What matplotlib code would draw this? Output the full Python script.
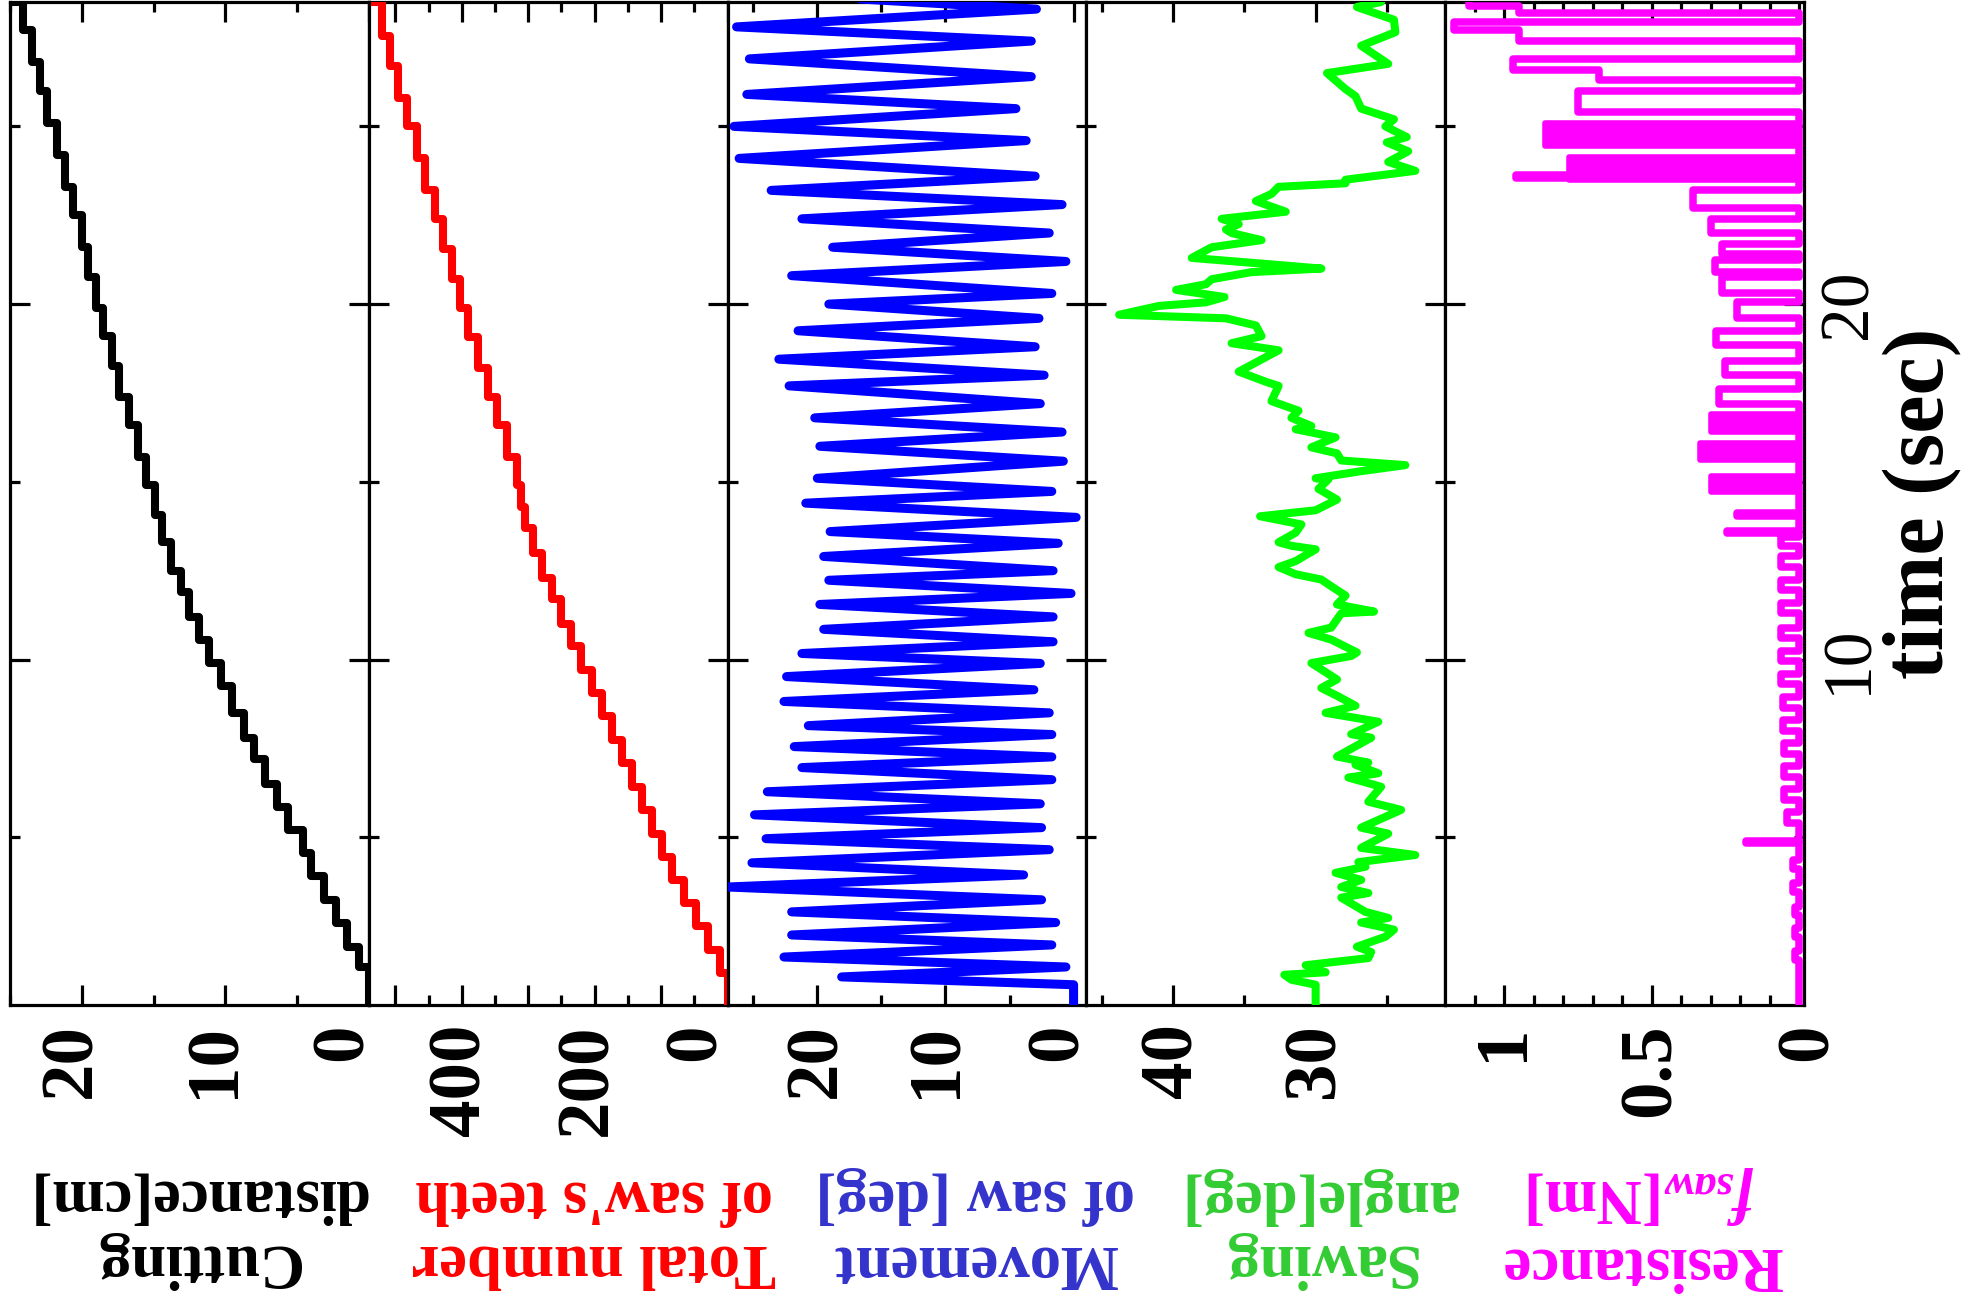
import numpy as np
import matplotlib
matplotlib.use('Agg')
import matplotlib.pyplot as plt
import matplotlib.transforms as mtransforms

plt.rcParams['font.family'] = 'Liberation Serif'
plt.rcParams['font.weight'] = 'bold'
plt.rcParams['mathtext.fontset'] = 'custom'
plt.rcParams['mathtext.rm'] = 'Liberation Serif:bold'
plt.rcParams['mathtext.it'] = 'Liberation Serif:italic:bold'

# cutting distance [cm] (value held from each time to the next)
cut_t = [0.28, 1.35, 1.9, 2.6, 3.24, 3.9, 4.55, 5.2, 5.86, 6.5, 7.2, 7.8, 8.5, 9.25, 9.9,
         10.56, 11.2, 11.9, 12.5, 13.3, 14.08, 14.9, 15.7, 16.6, 17.4, 18.25, 19.1, 19.9,
         20.75, 21.6, 22.5, 23.3, 24.2, 25.1, 26.0, 26.8, 27.7, 28.5]
cut_v = [0.0, 0.7, 1.5, 2.3, 3.1, 4.0, 4.6, 5.6, 6.4, 7.2, 8.0, 8.7, 9.5, 10.3, 11.1,
         11.8, 12.5, 13.1, 13.75, 14.4, 14.9, 15.5, 16.1, 16.7, 17.4, 17.9, 18.5, 19.0,
         19.6, 20.0, 20.6, 21.2, 21.7, 22.4, 22.9, 23.5, 24.1, 24.8]

# total number of saw's teeth
teeth_t = [0.28, 1.18, 1.83, 2.5, 3.15, 3.8, 4.45, 5.1, 5.77, 6.4, 7.1, 7.75, 8.4, 9.07, 9.7,
           10.37, 11.0, 11.7, 12.3, 13.0, 13.7, 14.3, 14.9, 15.7, 16.6, 17.4, 18.2, 19.07,
           19.9, 20.7, 21.55, 22.4, 23.2, 24.1, 25.0, 25.8, 26.7, 27.55, 28.5]
teeth_v = [0, 12, 30, 47, 65, 83, 98, 114, 129, 144, 159, 174, 189, 204, 220,
           235, 250, 265, 280, 293, 305, 311, 317, 332, 347, 361, 376, 391,
           403, 415, 429, 441, 456, 468, 483, 496, 508, 520, 531]

# movement of saw [deg], turning points
saw_t = [0.28, 0.85, 1.07, 1.35, 1.63, 1.97, 2.25, 2.6, 2.9, 3.24, 3.6, 3.94, 4.28, 4.65,
         4.96, 5.27, 5.63, 5.94, 6.28, 6.62, 6.96, 7.26, 7.55, 7.89, 8.14, 8.5, 8.82, 9.15,
         9.52, 9.89, 10.17, 10.5, 10.85, 11.2, 11.55, 11.86, 12.23, 12.5, 12.9, 13.27,
         13.6, 14.0, 14.4, 14.73, 15.1, 15.58, 16.0, 16.4, 16.8, 17.2, 17.7, 18.0, 18.45,
         18.8, 19.25, 19.6, 20.0, 20.3, 20.8, 21.2, 21.6, 22.0, 22.4, 22.8, 23.2, 23.6,
         24.1, 24.6, 25.0, 25.5, 25.9, 26.4, 26.9, 27.4, 27.8, 28.3, 28.6]
saw_v = [0.0, 0.0, 18.1, 0.6, 22.6, 1.7, 22.0, 1.4, 22.0, 2.5, 27.0, 3.9, 25.1, 1.9,
         24.0, 2.5, 24.9, 2.6, 23.9, 1.7, 21.2, 1.7, 21.8, 1.7, 20.7, 1.9, 22.6, 3.1,
         22.4, 2.6, 21.2, 1.6, 19.5, 1.6, 19.8, 0.2, 19.1, 1.6, 19.5, 1.2,
         19.0, -0.2, 20.9, 1.7, 20.0, 0.8, 19.8, 0.9, 20.2, 2.6, 22.2, 2.3, 23.0,
         3.0, 21.5, 2.7, 19.1, 1.7, 22.0, 0.6, 18.8, 1.9, 21.2, 0.9, 23.6, 3.0,
         26.1, 3.7, 26.5, 4.5, 25.5, 3.3, 25.3, 3.3, 26.3, 2.9, 17.4]

# sawing angle [deg]
ang_t = [0.28, 0.85, 0.99, 1.13, 1.2, 1.4, 1.6, 1.77, 1.92, 2.2, 2.4, 2.6, 2.73, 2.9, 3.3,
         3.43, 3.6, 3.8, 4.0, 4.17, 4.3, 4.5, 4.7, 5.1, 5.27, 5.77, 6.0, 6.42, 6.68, 6.8,
         7.04, 7.1, 7.27, 7.8, 7.9, 8.25, 8.5, 8.7, 8.96, 9.2, 9.44, 9.9, 10.1, 10.2,
         10.56, 10.75, 10.9, 11.3, 11.35, 11.55, 11.8, 12.06, 12.25, 12.4, 12.6, 12.77,
         13.1, 13.2, 13.3, 13.57, 13.8, 14.03, 14.2, 14.5, 14.8, 15.07, 15.1, 15.3, 15.47,
         15.6, 15.8, 15.97, 16.25, 16.48, 16.57, 16.8, 17.0, 17.27, 17.7, 17.8, 18.1,
         18.25, 18.7, 18.9, 19.1, 19.4, 19.6, 19.7, 19.95, 20.05, 20.2, 20.4, 20.56,
         20.7, 20.9, 21.0, 21.13, 21.3, 21.6, 21.8, 22.0, 22.1, 22.25, 22.4, 22.6, 22.9,
         23.1, 23.3, 23.4, 23.5, 23.75, 24.0, 24.3, 24.55, 24.7, 25.0, 25.2, 25.5, 25.85,
         26.05, 26.5, 26.76, 27.27, 27.65, 28.0, 28.36, 28.5]
ang_v = [30.0, 30.0, 31.7, 32.2, 29.3, 30.7, 26.3, 26.1, 27.1, 25.1, 24.5, 26.8, 24.9, 26.5, 28.2,
         26.3, 28.2, 26.8, 28.6, 26.5, 27.0, 23.0, 26.8, 24.9, 26.8, 24.0, 26.3, 25.4, 27.7, 25.6,
         27.2, 26.3, 28.5, 26.1, 27.5, 25.6, 29.3, 27.2, 28.4, 29.6, 28.5, 30.3, 27.5, 27.1,
         28.9, 30.5, 28.9, 28.2, 25.9, 28.5, 27.9, 28.9, 29.6, 31.4, 32.6, 31.4,
         30.0, 31.7, 32.6, 31.4, 31.0, 33.9, 30.0, 28.5, 29.8, 29.1, 30.0, 26.8, 23.7,
         28.2, 28.5, 30.3, 28.6, 31.4, 30.3, 31.7, 31.2, 33.1, 32.6, 33.4, 35.4,
         34.7, 32.6, 35.9, 33.8, 34.2, 36.3, 43.8, 41.0, 37.7, 36.4, 39.8, 37.7,
         37.3, 34.5, 29.6, 33.5, 38.7, 37.3, 33.8, 35.9, 36.3, 35.4, 36.6, 32.1, 34.2,
         33.1, 32.6, 27.9, 27.9, 23.0, 24.9, 23.5, 25.0, 23.6, 25.1, 24.5, 26.8, 27.2,
         27.9, 29.2, 24.9, 26.8, 24.4, 24.5, 27.1, 25.4]

# resistance f_saw [Nm]: single pulses (on, off, height)
res_on = [1.55, 2.2, 2.8, 3.45, 4.1, 4.84, 5.4, 6.05, 6.7, 7.35, 8.0, 8.65, 9.3, 9.95,
          10.6, 11.3, 11.95, 12.6, 13.2, 13.55, 14.05, 17.2, 18.0, 18.85, 19.6, 20.3,
          20.9, 21.4, 22.0, 22.7, 23.55, 25.4, 26.3, 26.6, 27.4, 27.7, 28.2, 28.4]
res_off = [1.8, 2.45, 3.05, 3.7, 4.35, 4.9, 5.7, 6.35, 7.0, 7.65, 8.3, 8.95, 9.6, 10.25,
           10.9, 11.6, 12.25, 12.9, 13.45, 13.62, 14.12, 17.6, 18.4, 19.25, 20.05, 20.75,
           21.25, 21.7, 22.4, 23.2, 23.62, 26.0, 26.6, 26.9, 27.7, 27.95, 28.4, 28.7]
res_h = [0.015, 0.015, 0.015, 0.02, 0.02, 0.18, 0.04, 0.05, 0.05, 0.05, 0.055, 0.055, 0.06, 0.06,
         0.06, 0.06, 0.06, 0.06, 0.06, 0.245, 0.21, 0.27, 0.25, 0.28, 0.21, 0.26,
         0.285, 0.26, 0.30, 0.36, 0.96, 0.75, 0.68, 0.97, 0.95, 1.17, 0.95, 1.12]
# dense blocks of resistance (start, end, height)
blk_on = [14.7, 15.6, 16.4, 23.5, 24.45]
blk_off = [15.15, 16.1, 16.9, 24.15, 25.1]
blk_h = [0.30, 0.335, 0.30, 0.78, 0.86]

labels = ['Cutting\ndistance[cm]', "Total number\nof saw's teeth", 'Movement\nof saw [deg]',
          'Sawing\nangle[deg]', 'Resistance\n$f_{saw}$[Nm]']
label_colors = ['black', '#ff0000', '#3333cc', '#33cc33', '#ff00ff']
label_x = [196, 594, 975, 1318, 1641]

W, H = 1970, 1304
fig = plt.figure(figsize=(W / 100, H / 100), dpi=100)

x0, pw, top, bot = 10, 358.8, 2, 1005
axes = []
for k in range(5):
    ax = fig.add_axes([(x0 + k * pw) / W, 1 - bot / H, pw / W, (bot - top) / H])
    axes.append(ax)

lw_sp = 2.3
for ax in axes:
    for s in ax.spines.values():
        s.set_linewidth(lw_sp)
    ax.set_ylim(0.28, 28.5)
    ax.set_yticks([10, 20])
    ax.set_yticks([5, 15, 25], minor=True)
    ax.tick_params(which='both', direction='in', top=True, bottom=True, left=True, right=True,
                   width=lw_sp, labelleft=False, labelright=False)
    ax.tick_params(which='major', length=14.5)
    ax.tick_params(which='minor', length=7.5)
    ax.tick_params(axis='x', labelsize=54, pad=13, labelrotation=90)

# 1: cutting distance
ax = axes[0]
ax.plot(cut_v, cut_t, color='black', lw=5.8, drawstyle='steps-pre', solid_joinstyle='round', zorder=3)
ax.set_xlim(25.0, 0.0)
ax.set_xticks([0, 10, 20])
ax.set_xticks([5, 15, 25], minor=True)

# 2: teeth
ax = axes[1]
ax.plot(teeth_v, teeth_t, color='#ff0000', lw=5.8, drawstyle='steps-pre', solid_joinstyle='round', zorder=3)
ax.set_xlim(540, 0)
ax.set_xticks([0, 100, 200, 300, 400, 500])
ax.set_xticklabels(['0', '', '200', '', '400', ''])
ax.set_xticks([50, 150, 250, 350, 450], minor=True)

# 3: movement of saw
ax = axes[2]
ax.plot(saw_v, saw_t, color='#0000ff', lw=6.5, solid_joinstyle='round', solid_capstyle='round', zorder=3)
ax.set_xlim(27.0, -1.0)
ax.set_xticks([0, 10, 20])
ax.set_xticks([5, 15, 25], minor=True)

# 4: sawing angle
ax = axes[3]
ax.plot(ang_v, ang_t, color='#00ff00', lw=5.8, solid_joinstyle='round', solid_capstyle='round', zorder=3)
ax.set_xlim(46.1, 20.9)
ax.set_xticks([30, 40])
ax.set_xticks([25, 35, 45], minor=True)

# 5: resistance
ax = axes[4]
rt, rv = [0.28], [0.0]
for on, off, h in zip(res_on, res_off, res_h):
    if rt[-1] == on and rv[-1] == 0.0 and len(rt) > 1:
        rv[-1] = h
    else:
        rt.append(on)
        rv.append(h)
    rt.append(off)
    rv.append(0.0)
rt.append(28.6)
rv.append(0.0)
ax.plot(rv, rt, color='#ff00ff', lw=5.4, drawstyle='steps-pre', solid_joinstyle='round', zorder=3)
for on, off, h in zip(blk_on, blk_off, blk_h):
    ax.fill_betweenx([on, off], 0, h, color='#ff00ff', lw=4, edgecolor='#ff00ff', zorder=3)
ax.set_xlim(1.2, -0.017)
ax.set_xticks([0, 0.5, 1])
ax.set_xticklabels(['0', '0.5', '1'])
ax.set_xticks([0.1, 0.2, 0.3, 0.4, 0.6, 0.7, 0.8, 0.9, 1.1], minor=True)

# time tick labels on the right side of the last panel
for tv in [10, 20]:
    ax.text(1.04, tv, str(tv), transform=ax.get_yaxis_transform(), rotation=90,
            ha='left', va='center', fontsize=50, fontweight='normal')

# nudge some value tick labels the way the reference has them (pixels)
shifts = {0: {'0': -25, '10': -10, '20': -9}, 1: {'0': -31, '200': -6},
          2: {'0': -15, '10': -8}, 4: {'0': 10}}
for k, d in shifts.items():
    for lab in axes[k].get_xticklabels():
        dx = d.get(lab.get_text(), 0)
        if dx:
            lab.set_transform(lab.get_transform() +
                              mtransforms.ScaledTranslation(dx / 100, 0, fig.dpi_scale_trans))

for k in range(5):
    fig.text(label_x[k] / W, 1 - 1228 / H, labels[k], rotation=180, ha='center', va='center',
             multialignment='center', fontsize=45, color=label_colors[k], linespacing=1.15)

fig.text(1922 / W, 1 - 503 / H, 'time (sec)', rotation=90, ha='center', va='center', fontsize=62)

fig.savefig('out.png', dpi=100)
